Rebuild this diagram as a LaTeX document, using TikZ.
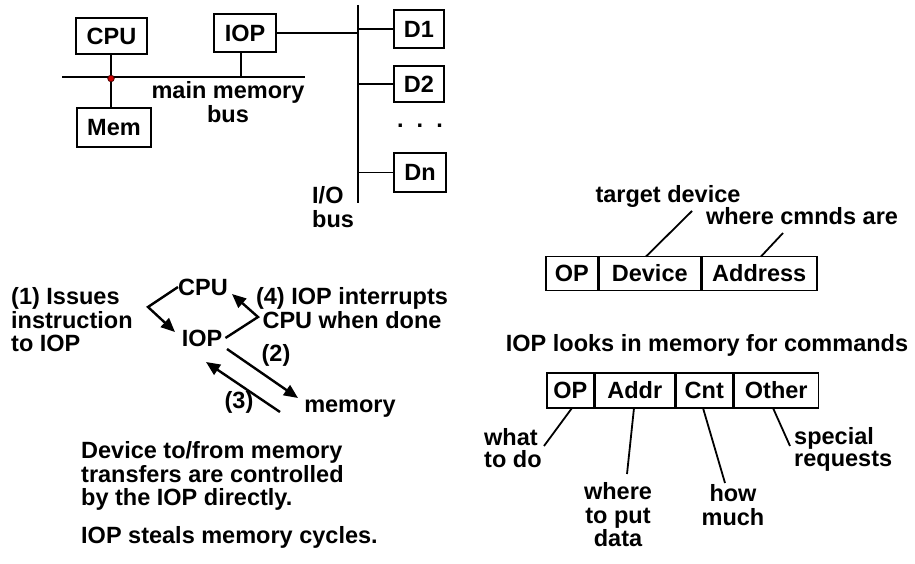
\documentclass[tikz,border=0pt]{standalone}
\usepackage{fontspec}
\setmainfont{Liberation Sans}
\usetikzlibrary{arrows.meta}
\begin{document}
\begin{tikzpicture}[x=1pt,y=-1pt,
  every node/.style={font=\fontsize{23.5}{23.5}\selectfont\bfseries, inner sep=0pt},
  tight/.style={font=\fontsize{23.5}{22}\selectfont\bfseries},
  box/.style={draw, line width=1.8pt, inner sep=0pt},
  ln/.style={line width=1.8pt},
  arr/.style={line width=2.4pt, -{Triangle[length=14pt,width=12pt]}},
  cell/.style={draw, line width=1.5pt, minimum height=34pt, inner sep=0pt}]
\useasboundingbox (0,0) rectangle (915,564);
% top diagram
\node[box, minimum width=71, minimum height=36] (cpu) at (111.5,36) {CPU};
\node[box, minimum width=62, minimum height=38] (iop) at (245,33) {IOP};
\node[box, minimum width=74, minimum height=39] (mem) at (114,127.5) {Mem};
\coordinate (busL) at (62,77);
\coordinate (busR) at (305,77);
\draw[ln] (busL) -- (busR);
\coordinate (j1) at (111,77);
\draw[ln] (cpu.south -| j1) -- (mem.north -| j1);
\coordinate (j2) at (241,77);
\draw[ln] (iop.south -| j2) -- (j2);
\node[circle, fill=red!80!black, draw=black!70!red, line width=0.8pt, minimum size=6.5pt] (dot) at (111,78.5) {};
\node[align=center] (mmb) at (228,102) {main memory\\bus};
\coordinate (ioT) at (358,5);
\coordinate (ioB) at (358,203);
\draw[ln] (ioT) -- (ioB);
\draw[ln] (iop.east) -- (iop.east -| ioT);
\node[box, minimum width=50, minimum height=38] (d1) at (419,29) {D1};
\node[box, minimum width=50, minimum height=36] (d2) at (419,84) {D2};
\node (dots) at (420,126) {.~~.~~.};
\node[box, minimum width=52, minimum height=39] (dn) at (420,172.5) {Dn};
\draw[ln] (d1.west) -- (d1.west -| ioT);
\draw[ln] (d2.west) -- (d2.west -| ioT);
\draw[ln] (dn.west) -- (dn.west -| ioT);
\node[align=left, anchor=west] (iobus) at (312,207) {I/O\\bus};
% flow diagram
\node[align=left, anchor=west] (t1) at (11,320) {(1) Issues\\instruction\\to IOP};
\node (cpu2) at (203,287) {CPU};
\node (iop2) at (202,338) {IOP};
\coordinate (c1) at (148,307);
\draw[arr] (cpu2.west) -- (c1) -- (175,332);
\coordinate (c4) at (258,317);
\draw[arr] ([xshift=3pt]iop2.east) -- (c4) -- (232,294);
\node[align=center] (t4) at (352,308) {(4) IOP interrupts\\CPU when done};
\coordinate (m2a) at (227,349);
\coordinate (m3b) at (280,412);
\draw[arr] (m2a) -- (298,398);
\draw[arr] (m3b) -- (206,362);
\node (l2) at (276,355) {(2)};
\node (l3) at (239,402) {(3)};
\node (memt) at (350,409) {memory};
\node[align=left, anchor=west] (desc) at (81,476) {Device to/from memory\\transfers are controlled\\by the IOP directly.};
\node[anchor=west] (steal) at (81,537) {IOP steals memory cycles.};
% instruction format
\node[cell, minimum width=52, anchor=west] (op1) at (545,273.5) {OP};
\node[cell, minimum width=101, anchor=west] (dev) at (op1.east) {Device};
\node[cell, minimum width=115, anchor=west] (addr) at (dev.east) {Address};
\node (tdev) at (668,196) {target device};
\node (wcm) at (802,216) {where cmnds are};
\draw[ln] (692,211) -- (646,256.5);
\draw[ln] (783,233) -- (761,256.5);
% command format
\node (looks) at (707,345) {IOP looks in memory for commands};
\node[cell, minimum width=47, minimum height=35, anchor=west] (op2) at (546,390.5) {OP};
\node[cell, minimum width=79, minimum height=35, anchor=west] (ad2) at (op2.east) {Addr};
\node[cell, minimum width=57, minimum height=35, anchor=west] (cnt) at (ad2.east) {Cnt};
\node[cell, minimum width=84, minimum height=35, anchor=west] (oth) at (cnt.east) {Other};
\node[tight, align=left, anchor=west] (what) at (484,448) {what\\to do};
\node[align=center] (where) at (618,515) {where\\to put\\data};
\node[align=center] (how) at (733,505) {how\\much};
\node[tight, align=left, anchor=west] (spec) at (794,449) {special\\requests};
\draw[ln] (572,408) -- (544,446);
\draw[ln] (634,408) -- (627,474);
\draw[ln] (703,408) -- (725,483);
\draw[ln] (773,408) -- (790,446);
\end{tikzpicture}
\end{document}
